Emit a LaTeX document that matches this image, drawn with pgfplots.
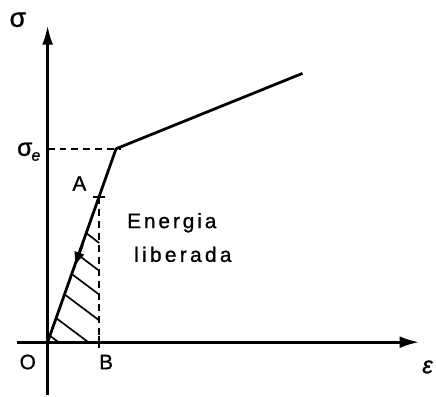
\documentclass[border=0pt]{standalone}
\usepackage{fontspec}
\setmainfont{Liberation Sans}[FakeBold=1]
\usepackage{pgfplots}
\pgfplotsset{compat=1.18}
\usetikzlibrary{arrows.meta}
\begin{document}
\begin{tikzpicture}
\begin{axis}[
  x=1pt, y=1pt,
  xmin=-48, xmax=388, ymin=-54, ymax=345,
  hide axis, clip=false, scale only axis,
]
\path (axis cs:-48,-54) rectangle (axis cs:388,345);
% axes
\addplot[line width=3.2pt, -{Latex[length=20pt,width=12pt]}] coordinates {(-31,0) (375,0)};
\addplot[line width=3.2pt, -{Latex[length=20pt,width=11pt]}] coordinates {(0,-53) (0,320)};
% curve
\addplot[line width=2.8pt, line join=round] coordinates {(0,0) (69,195) (257,271)};
% dashed
\addplot[line width=1.8pt, dash pattern=on 7pt off 5pt] coordinates {(0,195) (74,195)};
\addplot[line width=1.8pt, dash pattern=on 7pt off 5pt] coordinates {(52,146) (52,0)};
% ticks
\addplot[line width=1.8pt] coordinates {(46,146) (58,146)};
\addplot[line width=1.8pt] coordinates {(52,-6) (52,6)};
% hatching
\addplot[line width=1.7pt] coordinates {(39,110) (52,100)};
\addplot[line width=1.7pt] coordinates {(31.2,87.7) (52,72)};
\addplot[line width=1.7pt] coordinates {(24.4,68.7) (52,48)};
\addplot[line width=1.7pt] coordinates {(17.1,48.2) (52,22)};
\addplot[line width=1.7pt] coordinates {(8.6,24.3) (41,0)};
\addplot[line width=1.7pt] coordinates {(2.3,6.5) (11,0)};
% unloading arrow
\addplot[line width=2.8pt, -{Latex[length=15pt,width=11pt]}] coordinates {(35,98.3) (27,75.9)};
% labels
\node at (axis cs:-30,325) {\fontsize{27}{27}\selectfont σ};
\node at (axis cs:-19,192) {\fontsize{25}{25}\selectfont σ\kern-1pt\raisebox{-5pt}{\fontsize{16}{16}\selectfont\itshape e}};
\node at (axis cs:32,160) {\fontsize{21}{21}\selectfont A};
\node at (axis cs:-20,-20) {\fontsize{21}{21}\selectfont O};
\node at (axis cs:59,-20) {\fontsize{21}{21}\selectfont B};
\node at (axis cs:383,-25) {\fontsize{24}{24}\selectfont\itshape ε};
\node[anchor=base west, inner sep=0pt] at (axis cs:80,115) {\addfontfeature{LetterSpace=14}\fontsize{21}{21}\selectfont Energia};
\node[anchor=base west, inner sep=0pt] at (axis cs:87,81) {\addfontfeature{LetterSpace=16}\fontsize{21}{21}\selectfont liberada};
\end{axis}
\end{tikzpicture}
\end{document}
